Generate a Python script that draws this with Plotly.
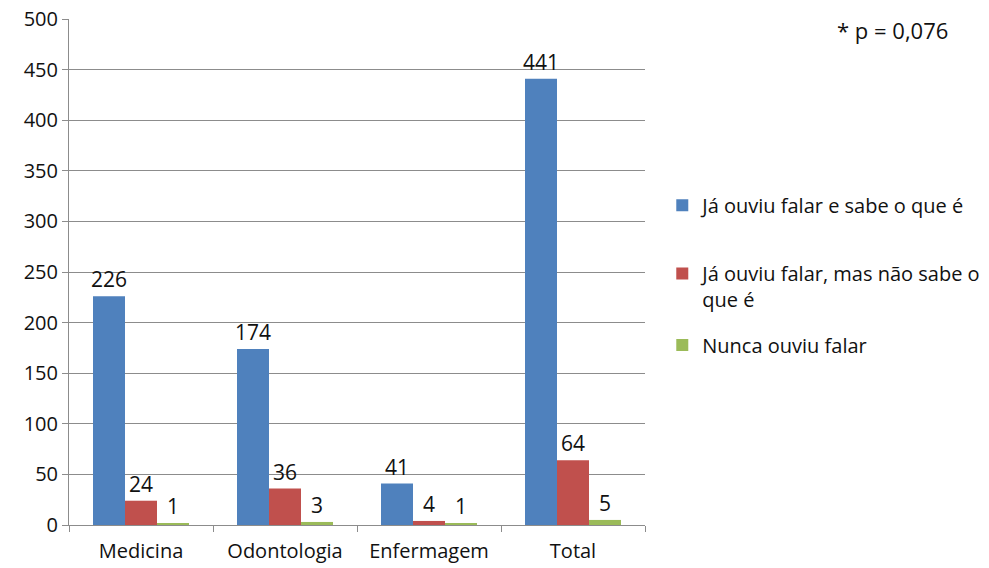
import plotly.graph_objects as go

categories = ["Medicina", "Odontologia", "Enfermagem", "Total"]
series_names = ["Já ouviu falar e sabe o que é",
                "Já ouviu falar, mas não sabe o<br>que é",
                "Nunca ouviu falar"]
sabe = [226, 174, 41, 441]
nao_sabe = [24, 36, 4, 64]
nunca = [1, 3, 1, 5]
colors = ["#4F81BD", "#C0504D", "#9BBB59"]
y_ticks = list(range(0, 501, 50))

FONT = "Open Sans"
legend_ids = ["legend", "legend2", "legend3"]
legend_y = [0.632, 0.4713, 0.3557]

fig = go.Figure()
for i, (name, vals) in enumerate(zip(series_names, [sabe, nao_sabe, nunca])):
    fig.add_trace(go.Bar(
        x=categories, y=vals, name=name,
        marker=dict(color=colors[i], line=dict(width=0)),
        text=[str(v) for v in vals], textposition="outside",
        constraintext="none",
        textfont=dict(family=FONT, size=21, color="#111111"),
        cliponaxis=False, legend=legend_ids[i],
    ))

legend_common = dict(x=1.03, xanchor="left", yanchor="middle", valign="top",
                     font=dict(family=FONT, size=20, color="#111111"),
                     itemwidth=30, bgcolor="rgba(0,0,0,0)")

fig.update_layout(
    width=989, height=568,
    margin=dict(l=69, r=344, t=19, b=43, autoexpand=False),
    paper_bgcolor="white", plot_bgcolor="white",
    barmode="group", bargap=1/3, bargroupgap=0,
    font=dict(family=FONT, size=20, color="#111111"),
    showlegend=True,
    legend=dict(y=legend_y[0], **legend_common),
    legend2=dict(y=legend_y[1], **legend_common),
    legend3=dict(y=legend_y[2], **legend_common),
    annotations=[dict(text="* p = 0,076", xref="paper", yref="paper",
                      x=1.33, y=0.978, xanchor="left", yanchor="middle",
                      showarrow=False, font=dict(family=FONT, size=22, color="#111111"))],
)
fig.update_yaxes(range=[0, 500], tickvals=y_ticks, showgrid=True, gridcolor="#8C8C8C",
                 gridwidth=1, showline=True, linecolor="#8C8C8C", ticks="outside",
                 ticklen=6, tickcolor="#8C8C8C", zeroline=False, automargin=False,
                 ticklabeloverflow="allow",
                 tickfont=dict(family=FONT, size=20, color="#111111"))
fig.update_xaxes(showline=True, linecolor="#8C8C8C", ticks="outside", tickson="boundaries",
                 ticklen=6, tickcolor="#8C8C8C", automargin=False,
                 ticklabeloverflow="allow", ticklabelstandoff=8,
                 tickfont=dict(family=FONT, size=20, color="#111111"))

fig.write_html("out.html", config={"displayModeBar": False},
               post_script="document.body.style.margin='0';document.body.style.overflow='hidden';")
